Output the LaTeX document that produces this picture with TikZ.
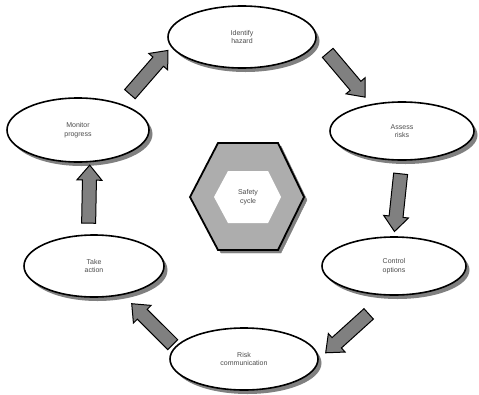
\documentclass[tikz,border=0pt]{standalone}
\usepackage{fontspec}
\setmainfont{Liberation Sans}
\usetikzlibrary{shapes.geometric,shapes.arrows,shadows}
\begin{document}
\begin{tikzpicture}[x=1pt,y=-1pt,
 ell/.style={ellipse, draw=black, line width=1.6pt, fill=white, inner sep=0pt, align=center,
   font=\fontsize{7}{8.5}\selectfont, text=black!70,
   drop shadow={shadow xshift=3.5pt, shadow yshift=-4pt, fill=black!50, opacity=1}},
 blk/.style={single arrow, draw=black, line width=1pt, fill=black!50, minimum height=58pt,
   inner xsep=0pt, inner ysep=6.5pt, single arrow head extend=5.5pt, single arrow tip angle=80,
   sloped, allow upside down}]
\useasboundingbox (0,0) rectangle (479,394);
% hexagon
\filldraw[black!50] (221,146) -- (281,146) -- (307,200) -- (281,253) -- (221,253) -- (193,200) -- cycle;
\filldraw[draw=black, line width=1.8pt, fill=black!32] (218,143) -- (278,143) -- (304,197) -- (278,250) -- (218,250) -- (190,197) -- cycle;
\fill[white] (228,171) -- (268,171) -- (281,197) -- (268,223) -- (228,223) -- (214,197) -- cycle;
\node[align=center, font=\fontsize{7}{8.5}\selectfont, text=black!70] (hex) at (248,197) {Safety\\cycle};
% ellipses
\node[ell, minimum width=148pt, minimum height=62pt] (idf) at (242,37) {Identify\\hazard};
\node[ell, minimum width=144pt, minimum height=58pt] (ass) at (402,131) {Assess\\risks};
\node[ell, minimum width=144pt, minimum height=58pt] (ctl) at (394,266) {Control\\options};
\node[ell, minimum width=148pt, minimum height=62pt] (risk) at (244,359) {Risk\\communication};
\node[ell, minimum width=140pt, minimum height=62pt] (take) at (94,266) {Take\\action};
\node[ell, minimum width=142pt, minimum height=64pt] (mon) at (78,130) {Monitor\\progress};
% arrows
\path (mon.31) -- node[blk] {} (idf.188);
\path (idf.-2) -- node[blk] {} (ass.139);
\path (ass.south) -- node[blk] {} (ctl.north);
\path (ctl.260) -- node[blk, pos=0.55] {} (risk.0);
\path (risk.170) -- node[blk, pos=0.38] {} (take.-45);
\path (take.100) -- node[blk] {} (mon.-70);
\end{tikzpicture}
\end{document}
